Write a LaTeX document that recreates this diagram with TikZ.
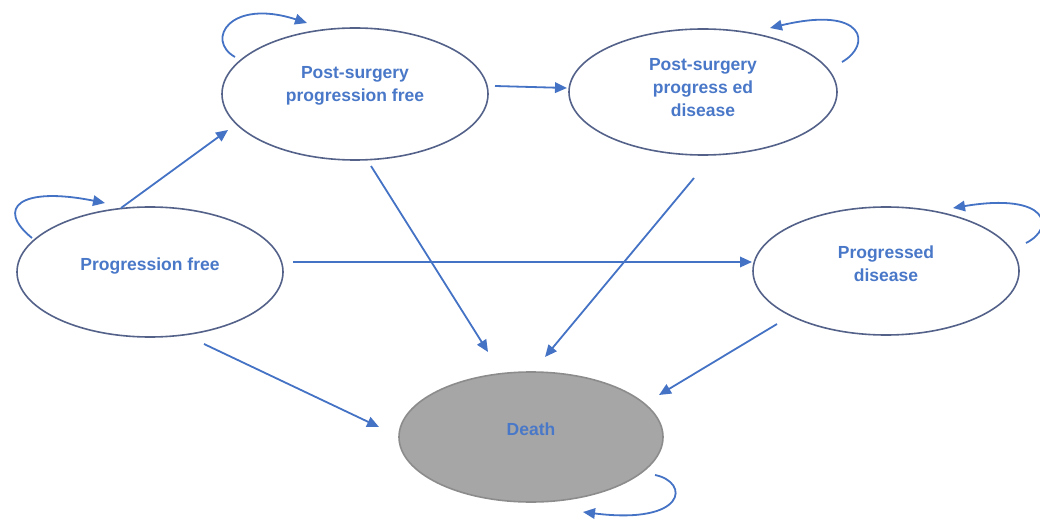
\documentclass[tikz,border=0pt]{standalone}
\usepackage{fontspec}
\setmainfont{Liberation Sans}
\usetikzlibrary{arrows.meta,shapes.geometric}
\definecolor{arrowblue}{RGB}{68,114,196}
\definecolor{textblue}{RGB}{74,120,200}
\definecolor{rimblue}{RGB}{84,98,138}
\definecolor{deathfill}{RGB}{166,166,166}
\definecolor{deathrim}{RGB}{140,140,140}
\newcommand{\statelabel}[2]{\raisebox{#1}[0pt][0pt]{\begin{tabular}{@{}c@{}}#2\end{tabular}}}
\begin{document}
\begin{tikzpicture}[x=1pt,y=-1pt,
  state/.style={ellipse, draw=rimblue, line width=1.6pt, inner sep=0pt, fill=white,
    font=\fontsize{17.5}{23}\selectfont\bfseries, text=textblue},
  conn/.style={draw=arrowblue, line width=1.8pt, -{Triangle[length=12pt,width=10.5pt]}},
]
\useasboundingbox (0,0) rectangle (1040,521);

\node[state, minimum width=266pt, minimum height=130pt] (pf) at (150,272)
  {\statelabel{2pt}{Progression free}};
\node[state, minimum width=266pt, minimum height=132pt] (pspf) at (355,94)
  {\statelabel{4pt}{Post-surgery\\progression free}};
\node[state, minimum width=268pt, minimum height=126pt] (pspd) at (703,92)
  {\statelabel{-1.5pt}{Post-surgery\\progress ed\\disease}};
\node[state, minimum width=266pt, minimum height=128pt] (pd) at (886,271)
  {\statelabel{1.5pt}{Progressed\\disease}};
\node[state, fill=deathfill, draw=deathrim, minimum width=264pt, minimum height=130pt] (death) at (531,437)
  {\statelabel{2pt}{Death}};

% transitions
\draw[conn] ([shift={(-29pt,64pt)}]pf.center) -- ([shift={(-127pt,-36pt)}]pspf.center);
\draw[conn] ([shift={(143pt,10pt)}]pf.center) -- ([shift={(-134pt,9pt)}]pd.center);
\draw[conn] ([shift={(54pt,-72pt)}]pf.center) -- ([shift={(-152pt,10pt)}]death.center);
\draw[conn] ([shift={(140pt,8pt)}]pspf.center) -- ([shift={(-136pt,4pt)}]pspd.center);
\draw[conn] ([shift={(16pt,-72pt)}]pspf.center) -- ([shift={(-43pt,85pt)}]death.center);
\draw[conn] ([shift={(-9pt,-86pt)}]pspd.center) -- ([shift={(14pt,80pt)}]death.center);
\draw[conn] ([shift={(-109pt,-53pt)}]pd.center) -- ([shift={(128pt,42pt)}]death.center);

% self loops
\draw[conn] ([shift={(-118pt,34pt)}]pf.center) .. controls (-5,208) and (20,186) .. ([shift={(-45pt,69pt)}]pf.center);
\draw[conn] ([shift={(-120pt,37pt)}]pspf.center) .. controls (205,40) and (230,-2) .. ([shift={(-48pt,71pt)}]pspf.center);
\draw[conn] ([shift={(139pt,30pt)}]pspd.center) .. controls (872,45) and (866,5) .. ([shift={(67pt,64pt)}]pspd.center);
\draw[conn] ([shift={(140pt,28pt)}]pd.center) .. controls (1056,228) and (1049,192) .. ([shift={(67pt,63pt)}]pd.center);
\draw[conn] ([shift={(124pt,-38pt)}]death.center) .. controls (690,482) and (687,525) .. ([shift={(52pt,-75pt)}]death.center);
\end{tikzpicture}
\end{document}
